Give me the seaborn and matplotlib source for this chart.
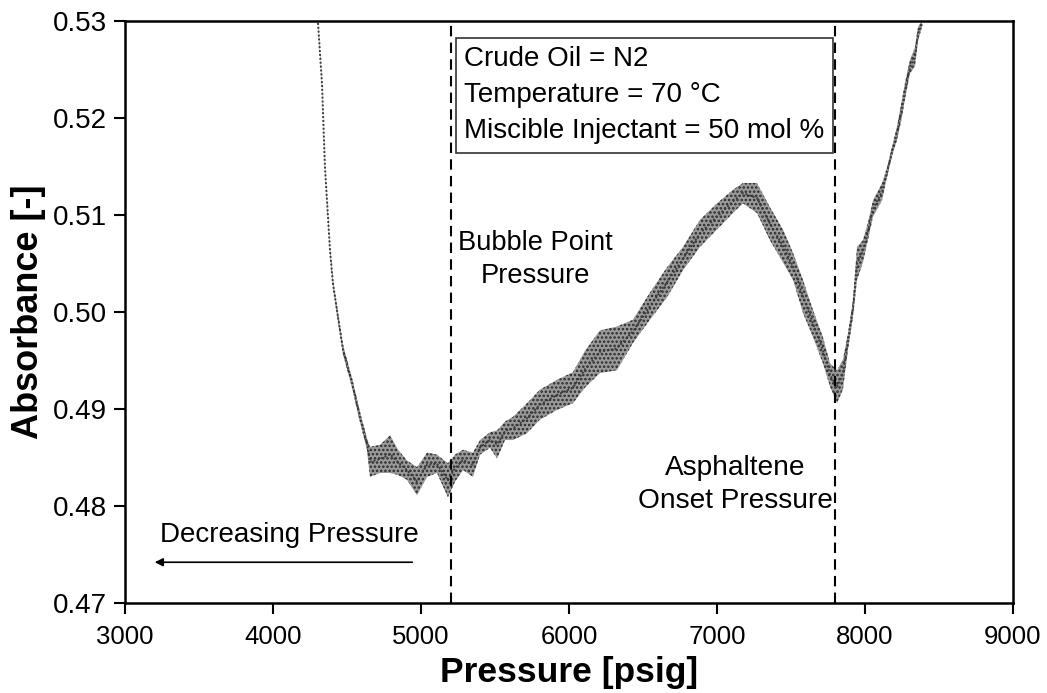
import matplotlib
matplotlib.use("Agg")
import matplotlib.pyplot as plt
import numpy as np
import pandas as pd
import seaborn as sns

# Absorbance trace recorded while pressure decreases (band = scatter of readings)
pressure = [4304, 4331, 4351, 4385, 4405, 4439, 4473, 4534, 4588, 4635,
            4655, 4723, 4791, 4845, 4905, 4973, 5041, 5108, 5182, 5230,
            5284, 5351, 5399, 5466, 5514, 5568, 5622, 5716, 5804, 5919,
            6027, 6108, 6209, 6324, 6432, 6547, 6662, 6770, 6885, 7000,
            7108, 7176, 7270, 7358, 7446, 7514, 7581, 7649, 7716, 7764,
            7811, 7851, 7885, 7919, 7946, 7986, 8020, 8054, 8115, 8149,
            8182, 8216, 8250, 8270, 8304, 8338, 8358, 8385]
absorbance_high = [0.5300, 0.5238, 0.5152, 0.5067, 0.5033, 0.4999, 0.4966, 0.4932, 0.4897, 0.4870,
                   0.4861, 0.4863, 0.4873, 0.4858, 0.4847, 0.4840, 0.4855, 0.4853, 0.4844, 0.4853,
                   0.4858, 0.4855, 0.4868, 0.4876, 0.4878, 0.4887, 0.4892, 0.4906, 0.4920, 0.4930,
                   0.4938, 0.4960, 0.4981, 0.4985, 0.4992, 0.5020, 0.5046, 0.5067, 0.5095, 0.5112,
                   0.5126, 0.5133, 0.5133, 0.5108, 0.5085, 0.5061, 0.5033, 0.5002, 0.4974, 0.4947,
                   0.4940, 0.4951, 0.4978, 0.5012, 0.5067, 0.5074, 0.5092, 0.5115, 0.5133, 0.5149,
                   0.5170, 0.5191, 0.5219, 0.5236, 0.5260, 0.5273, 0.5294, 0.5300]
absorbance_low = [0.5296, 0.5233, 0.5147, 0.5061, 0.5026, 0.4991, 0.4956, 0.4922, 0.4886, 0.4858,
                  0.4830, 0.4834, 0.4834, 0.4832, 0.4827, 0.4811, 0.4830, 0.4834, 0.4809, 0.4825,
                  0.4837, 0.4830, 0.4853, 0.4860, 0.4849, 0.4868, 0.4868, 0.4875, 0.4889, 0.4899,
                  0.4906, 0.4922, 0.4937, 0.4940, 0.4968, 0.4992, 0.5015, 0.5043, 0.5067, 0.5085,
                  0.5102, 0.5112, 0.5102, 0.5074, 0.5051, 0.5033, 0.4999, 0.4974, 0.4947, 0.4923,
                  0.4906, 0.4920, 0.4961, 0.4995, 0.5033, 0.5051, 0.5074, 0.5098, 0.5115, 0.5139,
                  0.5160, 0.5177, 0.5201, 0.5219, 0.5246, 0.5253, 0.5280, 0.5293]

bubble_point = 5200
onset_pressure = 7800
x_ticks = [3000, 4000, 5000, 6000, 7000, 8000, 9000]
y_ticks = [0.47, 0.48, 0.49, 0.50, 0.51, 0.52, 0.53]

df = pd.DataFrame({"Pressure": pressure,
                   "low": absorbance_low,
                   "high": absorbance_high})
df["Absorbance"] = (df["low"] + df["high"]) / 2

sns.set_theme(style="ticks")
plt.rcParams["font.family"] = ["Liberation Sans", "DejaVu Sans"]
plt.rcParams["text.color"] = "black"
plt.rcParams["axes.labelcolor"] = "black"
plt.rcParams["hatch.linewidth"] = 1.2

fig = plt.figure(figsize=(10.47, 6.93), dpi=100)
ax = fig.add_axes([0.1194, 0.1299, 0.8481, 0.8398])

# noisy reading band
ax.fill_between(df["Pressure"], df["low"], df["high"],
                facecolor="#9a9a9a", edgecolor="#2a2a2a", hatch="....",
                linewidth=0, zorder=2)
sns.lineplot(data=df, x="Pressure", y="Absorbance", ax=ax, color="#3a3a3a",
             linewidth=1.4, linestyle=(0, (1, 1)), zorder=3)

# characteristic pressures
for p in (bubble_point, onset_pressure):
    ax.axvline(p, color="black", linewidth=1.5, linestyle=(0, (5, 3)), zorder=4)

ax.set_xlim(3000, 9000)
ax.set_ylim(0.47, 0.53)
ax.set_xticks(x_ticks)
ax.set_yticks(y_ticks)
ax.set_xticklabels([str(v) for v in x_ticks])
ax.set_yticklabels([f"{v:.2f}" for v in y_ticks])
ax.tick_params(axis="both", direction="out", length=8, width=1.5,
               color="black", labelcolor="black")
ax.tick_params(axis="x", labelsize=18.5, pad=8)
ax.tick_params(axis="y", labelsize=20, pad=5)
for s in ax.spines.values():
    s.set_visible(True)
    s.set_linewidth(1.8)
    s.set_color("black")

ax.set_xlabel("Pressure [psig]", fontsize=25.5, fontweight="bold", labelpad=5)
ax.set_ylabel("Absorbance [-]", fontsize=26, fontweight="bold", labelpad=5)

ax.text(5291, 0.5274,
        "Crude Oil = N2\nTemperature = 70 \u00b0C\nMiscible Injectant = 50 mol %",
        ha="left", va="top", fontsize=20, linespacing=1.5, zorder=5,
        bbox=dict(boxstyle="square,pad=0.3", facecolor="white",
                  edgecolor="#333333", linewidth=1.2))
ax.text(5770, 0.5054, "Bubble Point\nPressure", ha="center", va="center",
        multialignment="center", fontsize=19.6, linespacing=1.33, zorder=5)
ax.text(7122, 0.4822, "Asphaltene\nOnset Pressure", ha="center", va="center",
        multialignment="center", fontsize=20.2, linespacing=1.33, zorder=5)
ax.text(4108, 0.4770, "Decreasing Pressure", ha="center", va="center",
        fontsize=20, zorder=5)
ax.annotate("", xy=(3182, 0.4742), xytext=(4960, 0.4742),
            arrowprops=dict(arrowstyle="-|>", color="black", lw=1.2,
                            mutation_scale=12))

fig.savefig("out.png", dpi=100)
